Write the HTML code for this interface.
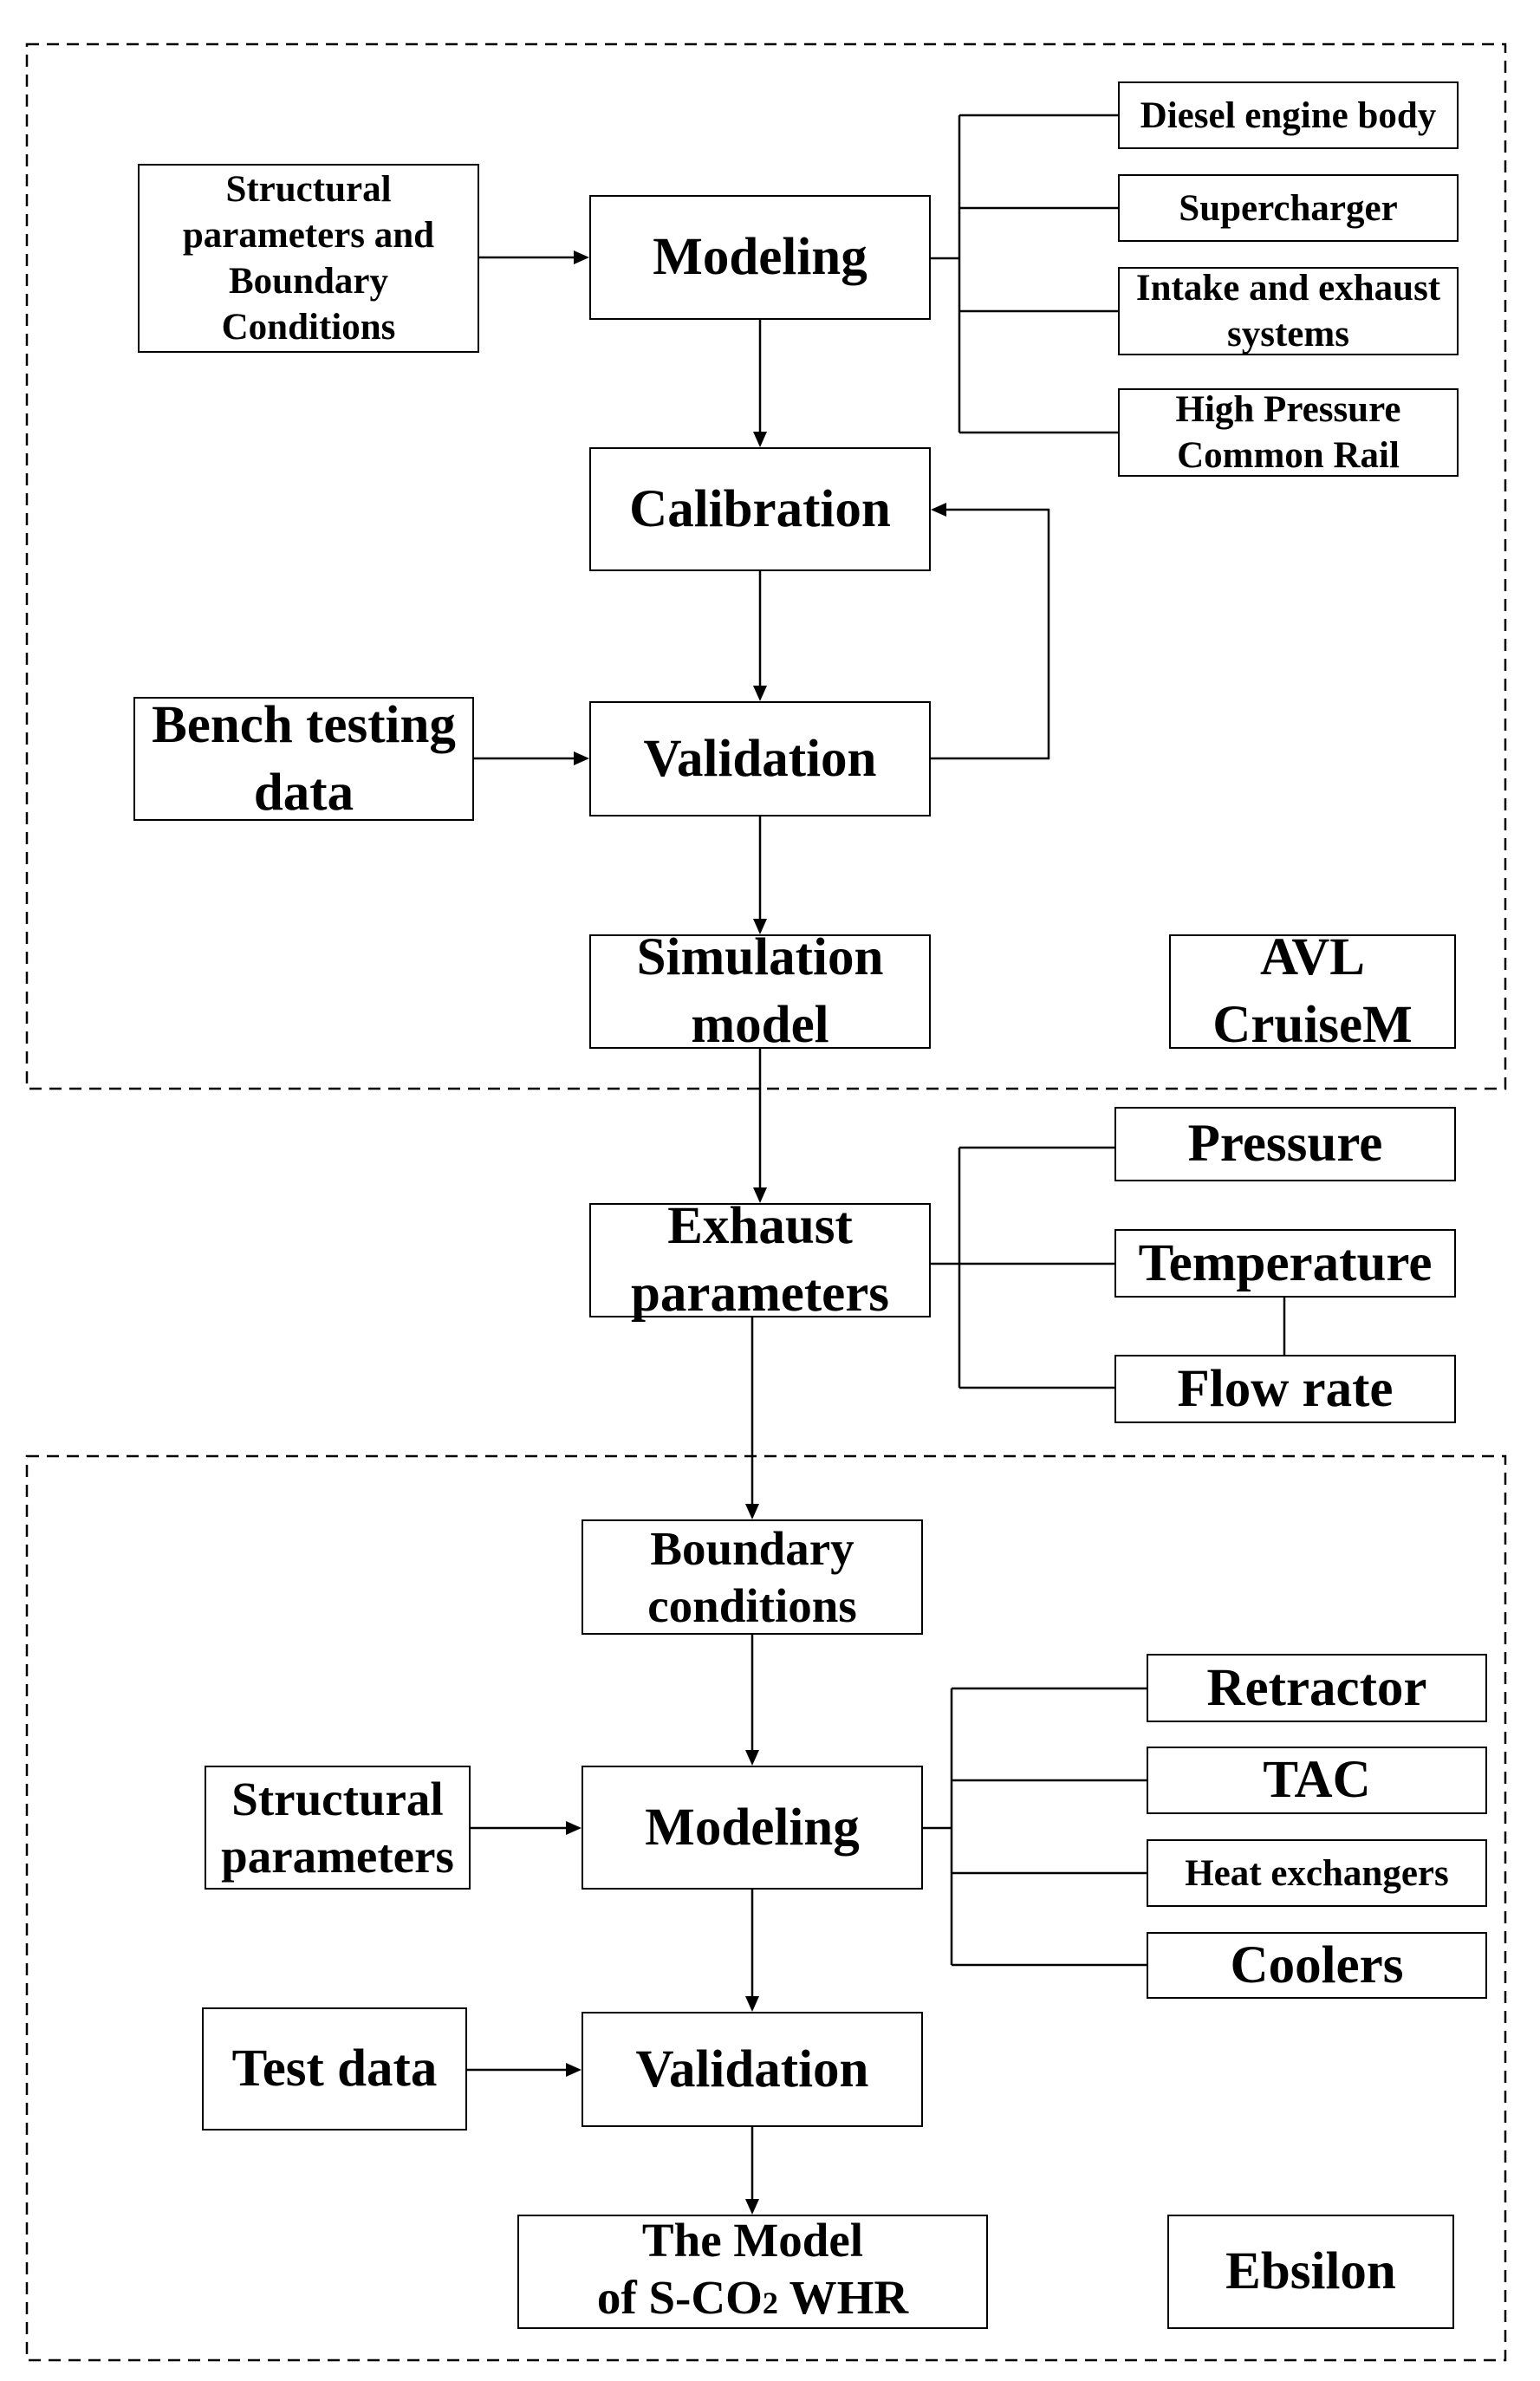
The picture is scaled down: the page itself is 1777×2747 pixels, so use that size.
<!DOCTYPE html>
<html><head><meta charset="utf-8"><style>
html,body{margin:0;padding:0;background:#fff;}
#c{position:relative;width:1777px;height:2747px;overflow:hidden;background:#fff;}
.b{position:absolute;box-sizing:border-box;border:2.5px solid #000;background:#fff;display:flex;align-items:center;justify-content:center;text-align:center;font-family:"Liberation Serif",serif;font-weight:bold;color:#000;white-space:nowrap;}
.s{font-size:43px;line-height:53px;}
.m{font-size:55px;line-height:66px;}
.L{font-size:61px;line-height:78px;}
svg{position:absolute;left:0;top:0;}
</style></head><body><div id="c">
<svg width="1777" height="2747" viewBox="0 0 1777 2747">
<g fill="none" stroke="#000" stroke-width="2.5">
<rect x="31" y="51" width="1706" height="1205" stroke-dasharray="14 9"/>
<rect x="31" y="1680" width="1706" height="1043" stroke-dasharray="14 9"/>
<line x1="553" y1="297" x2="664" y2="297"/>
<line x1="877" y1="369" x2="877" y2="500"/>
<line x1="877" y1="659" x2="877" y2="793"/>
<line x1="547" y1="875" x2="664" y2="875"/>
<line x1="877" y1="942" x2="877" y2="1062"/>
<polyline points="1074,875 1210,875 1210,588 1090,588"/>
<line x1="1074" y1="298" x2="1107" y2="298"/>
<line x1="1107" y1="133" x2="1107" y2="499"/>
<line x1="1107" y1="133" x2="1290" y2="133"/>
<line x1="1107" y1="240" x2="1290" y2="240"/>
<line x1="1107" y1="359" x2="1290" y2="359"/>
<line x1="1107" y1="499" x2="1290" y2="499"/>
<line x1="877" y1="1210" x2="877" y2="1372"/>
<line x1="1074" y1="1458" x2="1290" y2="1458"/>
<line x1="1107" y1="1324" x2="1107" y2="1601"/>
<line x1="1107" y1="1324" x2="1286" y2="1324"/>
<line x1="1107" y1="1601" x2="1286" y2="1601"/>
<line x1="1482" y1="1497" x2="1482" y2="1563"/>
<line x1="868" y1="1520" x2="868" y2="1737"/>
<line x1="868" y1="1886" x2="868" y2="2021"/>
<line x1="543" y1="2109" x2="655" y2="2109"/>
<line x1="868" y1="2180" x2="868" y2="2305"/>
<line x1="539" y1="2388" x2="655" y2="2388"/>
<line x1="868" y1="2454" x2="868" y2="2539"/>
<line x1="1065" y1="2109" x2="1098" y2="2109"/>
<line x1="1098" y1="1948" x2="1098" y2="2267"/>
<line x1="1098" y1="1948" x2="1323" y2="1948"/>
<line x1="1098" y1="2054" x2="1323" y2="2054"/>
<line x1="1098" y1="2161" x2="1323" y2="2161"/>
<line x1="1098" y1="2267" x2="1323" y2="2267"/>
</g>
<g fill="#000">
<polygon points="680,297 662,289 662,305"/>
<polygon points="877,516 869,498 885,498"/>
<polygon points="877,809 869,791 885,791"/>
<polygon points="680,875 662,867 662,883"/>
<polygon points="877,1078 869,1060 885,1060"/>
<polygon points="1074,588 1092,580 1092,596"/>
<polygon points="877,1388 869,1370 885,1370"/>
<polygon points="868,1753 860,1735 876,1735"/>
<polygon points="868,2037 860,2019 876,2019"/>
<polygon points="671,2109 653,2101 653,2117"/>
<polygon points="868,2321 860,2303 876,2303"/>
<polygon points="671,2388 653,2380 653,2396"/>
<polygon points="868,2555 860,2537 876,2537"/>
</g>
</svg>
<div class="b s" style="left:159px;top:189px;width:394px;height:218px;">Structural<br>parameters and<br>Boundary<br>Conditions</div>
<div class="b L" style="left:680px;top:225px;width:394px;height:144px;">Modeling</div>
<div class="b s" style="left:1290px;top:94px;width:393px;height:78px;">Diesel engine body</div>
<div class="b s" style="left:1290px;top:201px;width:393px;height:78px;">Supercharger</div>
<div class="b s" style="left:1290px;top:308px;width:393px;height:102px;">Intake and exhaust<br>systems</div>
<div class="b s" style="left:1290px;top:448px;width:393px;height:102px;">High Pressure<br>Common Rail</div>
<div class="b L" style="left:680px;top:516px;width:394px;height:143px;">Calibration</div>
<div class="b L" style="left:154px;top:804px;width:393px;height:143px;">Bench testing<br>data</div>
<div class="b L" style="left:680px;top:809px;width:394px;height:133px;">Validation</div>
<div class="b L" style="left:680px;top:1078px;width:394px;height:132px;">Simulation<br>model</div>
<div class="b L" style="left:1349px;top:1078px;width:331px;height:132px;">AVL<br>CruiseM</div>
<div class="b L" style="left:1286px;top:1277px;width:394px;height:86px;">Pressure</div>
<div class="b L" style="left:680px;top:1388px;width:394px;height:132px;">Exhaust<br>parameters</div>
<div class="b L" style="left:1286px;top:1418px;width:394px;height:79px;">Temperature</div>
<div class="b L" style="left:1286px;top:1563px;width:394px;height:79px;">Flow rate</div>
<div class="b m" style="left:671px;top:1753px;width:394px;height:133px;">Boundary<br>conditions</div>
<div class="b L" style="left:1323px;top:1908px;width:393px;height:79px;">Retractor</div>
<div class="b L" style="left:1323px;top:2015px;width:393px;height:78px;">TAC</div>
<div class="b s" style="left:1323px;top:2122px;width:393px;height:78px;">Heat exchangers</div>
<div class="b L" style="left:1323px;top:2229px;width:393px;height:77px;">Coolers</div>
<div class="b m" style="left:236px;top:2037px;width:307px;height:143px;">Structural<br>parameters</div>
<div class="b L" style="left:671px;top:2037px;width:394px;height:143px;">Modeling</div>
<div class="b L" style="left:233px;top:2316px;width:306px;height:142px;">Test data</div>
<div class="b L" style="left:671px;top:2321px;width:394px;height:133px;">Validation</div>
<div class="b m" style="left:597px;top:2555px;width:543px;height:132px;"><div>The Model<br>of S-CO<span style="font-size:36px;">2</span> WHR</div></div>
<div class="b L" style="left:1347px;top:2555px;width:331px;height:132px;">Ebsilon</div>
</div></body></html>
